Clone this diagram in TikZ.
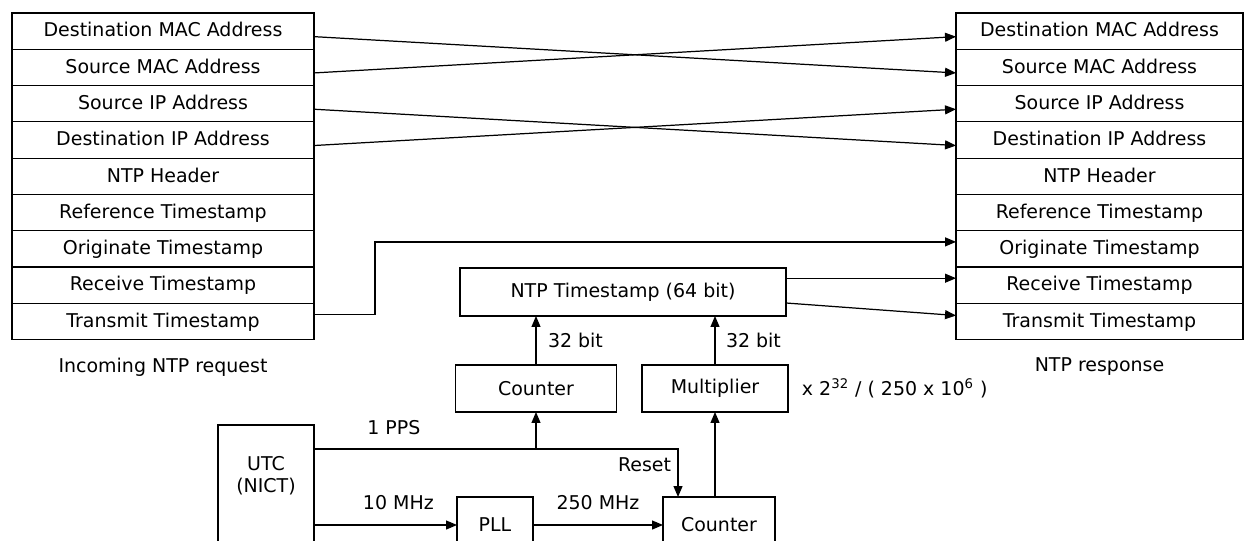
\documentclass[tikz,border=0pt]{standalone}
\usepackage{fontspec}
\setmainfont{DejaVu Sans}
\usetikzlibrary{arrows.meta,positioning}

\begin{document}
\begin{tikzpicture}[
                x=0.02cm, y=-0.02cm,
                every node/.style={
                        inner sep=0pt,
                        outer sep=0pt,
                        font=\fontsize{10.8}{13}\selectfont
                    },
                campo/.style={
                        draw,
                        minimum height=0.726cm,
                        text height=1.6ex,
                        text depth=0.4ex
                    },
                reqcampo/.style={campo, minimum width=6.04cm},
                respcampo/.style={campo, minimum width=5.74cm},
                bloco/.style={
                        draw,
                        align=center
                    },
                seta/.style={-{Triangle[length=2.2mm,width=1.8mm]}},
                line width=0.7pt
            ]

            \useasboundingbox (0,0) rectangle (1245,541);

            % Pacote de requisição (esquerda)
            \node[reqcampo, anchor=north] (req1) at (163,13) {Destination MAC Address};
            \node[reqcampo, below=0pt of req1] (req2) {Source MAC Address};
            \node[reqcampo, below=0pt of req2] (req3) {Source IP Address};
            \node[reqcampo, below=0pt of req3] (req4) {Destination IP Address};
            \node[reqcampo, below=0pt of req4] (req5) {NTP Header};
            \node[reqcampo, below=0pt of req5] (req6) {Reference Timestamp};
            \node[reqcampo, below=0pt of req6] (req7) {Originate Timestamp};
            \node[reqcampo, below=0pt of req7] (req8) {Receive Timestamp};
            \node[reqcampo, below=0pt of req8] (req9) {Transmit Timestamp};
            \node[below=0.36cm of req9] (lreq) {Incoming NTP request};

            % Pacote de resposta (direita)
            \node[respcampo, anchor=north] (resp1) at (1099.5,13) {Destination MAC Address};
            \node[respcampo, below=0pt of resp1] (resp2) {Source MAC Address};
            \node[respcampo, below=0pt of resp2] (resp3) {Source IP Address};
            \node[respcampo, below=0pt of resp3] (resp4) {Destination IP Address};
            \node[respcampo, below=0pt of resp4] (resp5) {NTP Header};
            \node[respcampo, below=0pt of resp5] (resp6) {Reference Timestamp};
            \node[respcampo, below=0pt of resp6] (resp7) {Originate Timestamp};
            \node[respcampo, below=0pt of resp7] (resp8) {Receive Timestamp};
            \node[respcampo, below=0pt of resp8] (resp9) {Transmit Timestamp};
            \node[below=0.36cm of resp9] (lresp) {NTP response};

            % Blocos do gerador de tempo
            \node[bloco, minimum width=6.52cm, minimum height=0.96cm] (ntp) at (623,292) {NTP Timestamp (64 bit)};
            \node[bloco, minimum width=3.22cm, minimum height=0.94cm] (cnt1) at (536,388.5) {Counter};
            \node[bloco, minimum width=2.92cm, minimum height=0.94cm] (mult) at (715,388.5) {Multiplier};
            \node[right=0.28cm of mult] (fator) {x 2\textsuperscript{32} / ( 250 x 10\textsuperscript{6} )};
            \node[draw, minimum width=1.92cm, minimum height=3cm, anchor=north,
                  label={[anchor=north, align=center, yshift=-0.62cm]north:UTC\\(NICT)}] (utc) at (266,425) {};
            \node[bloco, minimum width=1.52cm, minimum height=1.12cm] (pll) at (495,525) {PLL};
            \node[bloco, minimum width=2.24cm, minimum height=1.12cm] (cnt2) at (719,525) {Counter};

            % Campos trocados
            \draw[seta] ([yshift=-1.1mm]req1.east) -- ([yshift=-1.1mm]resp2.west);
            \draw[seta] ([yshift=-1.1mm]req2.east) -- ([yshift=-1.1mm]resp1.west);
            \draw[seta] ([yshift=-1.1mm]req3.east) -- ([yshift=-1.1mm]resp4.west);
            \draw[seta] ([yshift=-1.1mm]req4.east) -- ([yshift=-1.1mm]resp3.west);
            \draw[seta] ([yshift=1.4mm]req9.east) -- ++(61,0) |- ([yshift=1.4mm]resp7.west);

            % Carimbos de tempo gerados
            \coordinate (rec) at ([yshift=1.4mm]resp8.west);
            \draw[seta] (ntp.east |- rec) -- (rec);
            \draw[seta] ([yshift=-2.2mm]ntp.east) -- ([yshift=1.2mm]resp9.west);
            \draw[seta] (cnt1.north) -- node[right=0.24cm] (bits1) {32 bit} (cnt1.north |- ntp.south);
            \draw[seta] (mult.north) -- node[right=0.22cm] (bits2) {32 bit} (mult.north |- ntp.south);
            \draw[seta] (mult.south |- cnt2.north) -- (mult.south);

            % Sinais de referência
            \coordinate (pps) at ([yshift=-0.48cm]utc.north east);
            \coordinate (rst) at ([xshift=0.3cm]cnt2.north west);
            \draw[seta] (pps) -| node[pos=0.18, above=0.28cm] (lpps) {1 PPS} (cnt1.south);
            \draw[seta] (pps) -| node[pos=0.66, left=0.14cm] (lrst) {Reset} (rst);
            \draw[seta] (utc.east |- pll.west) -- node[pos=0.59, above=0.3cm] (l10) {10 MHz} (pll.west);
            \draw[seta] (pll.east) -- node[above=0.3cm] (l250) {250 MHz} (cnt2.west);

        \end{tikzpicture}
\end{document}
